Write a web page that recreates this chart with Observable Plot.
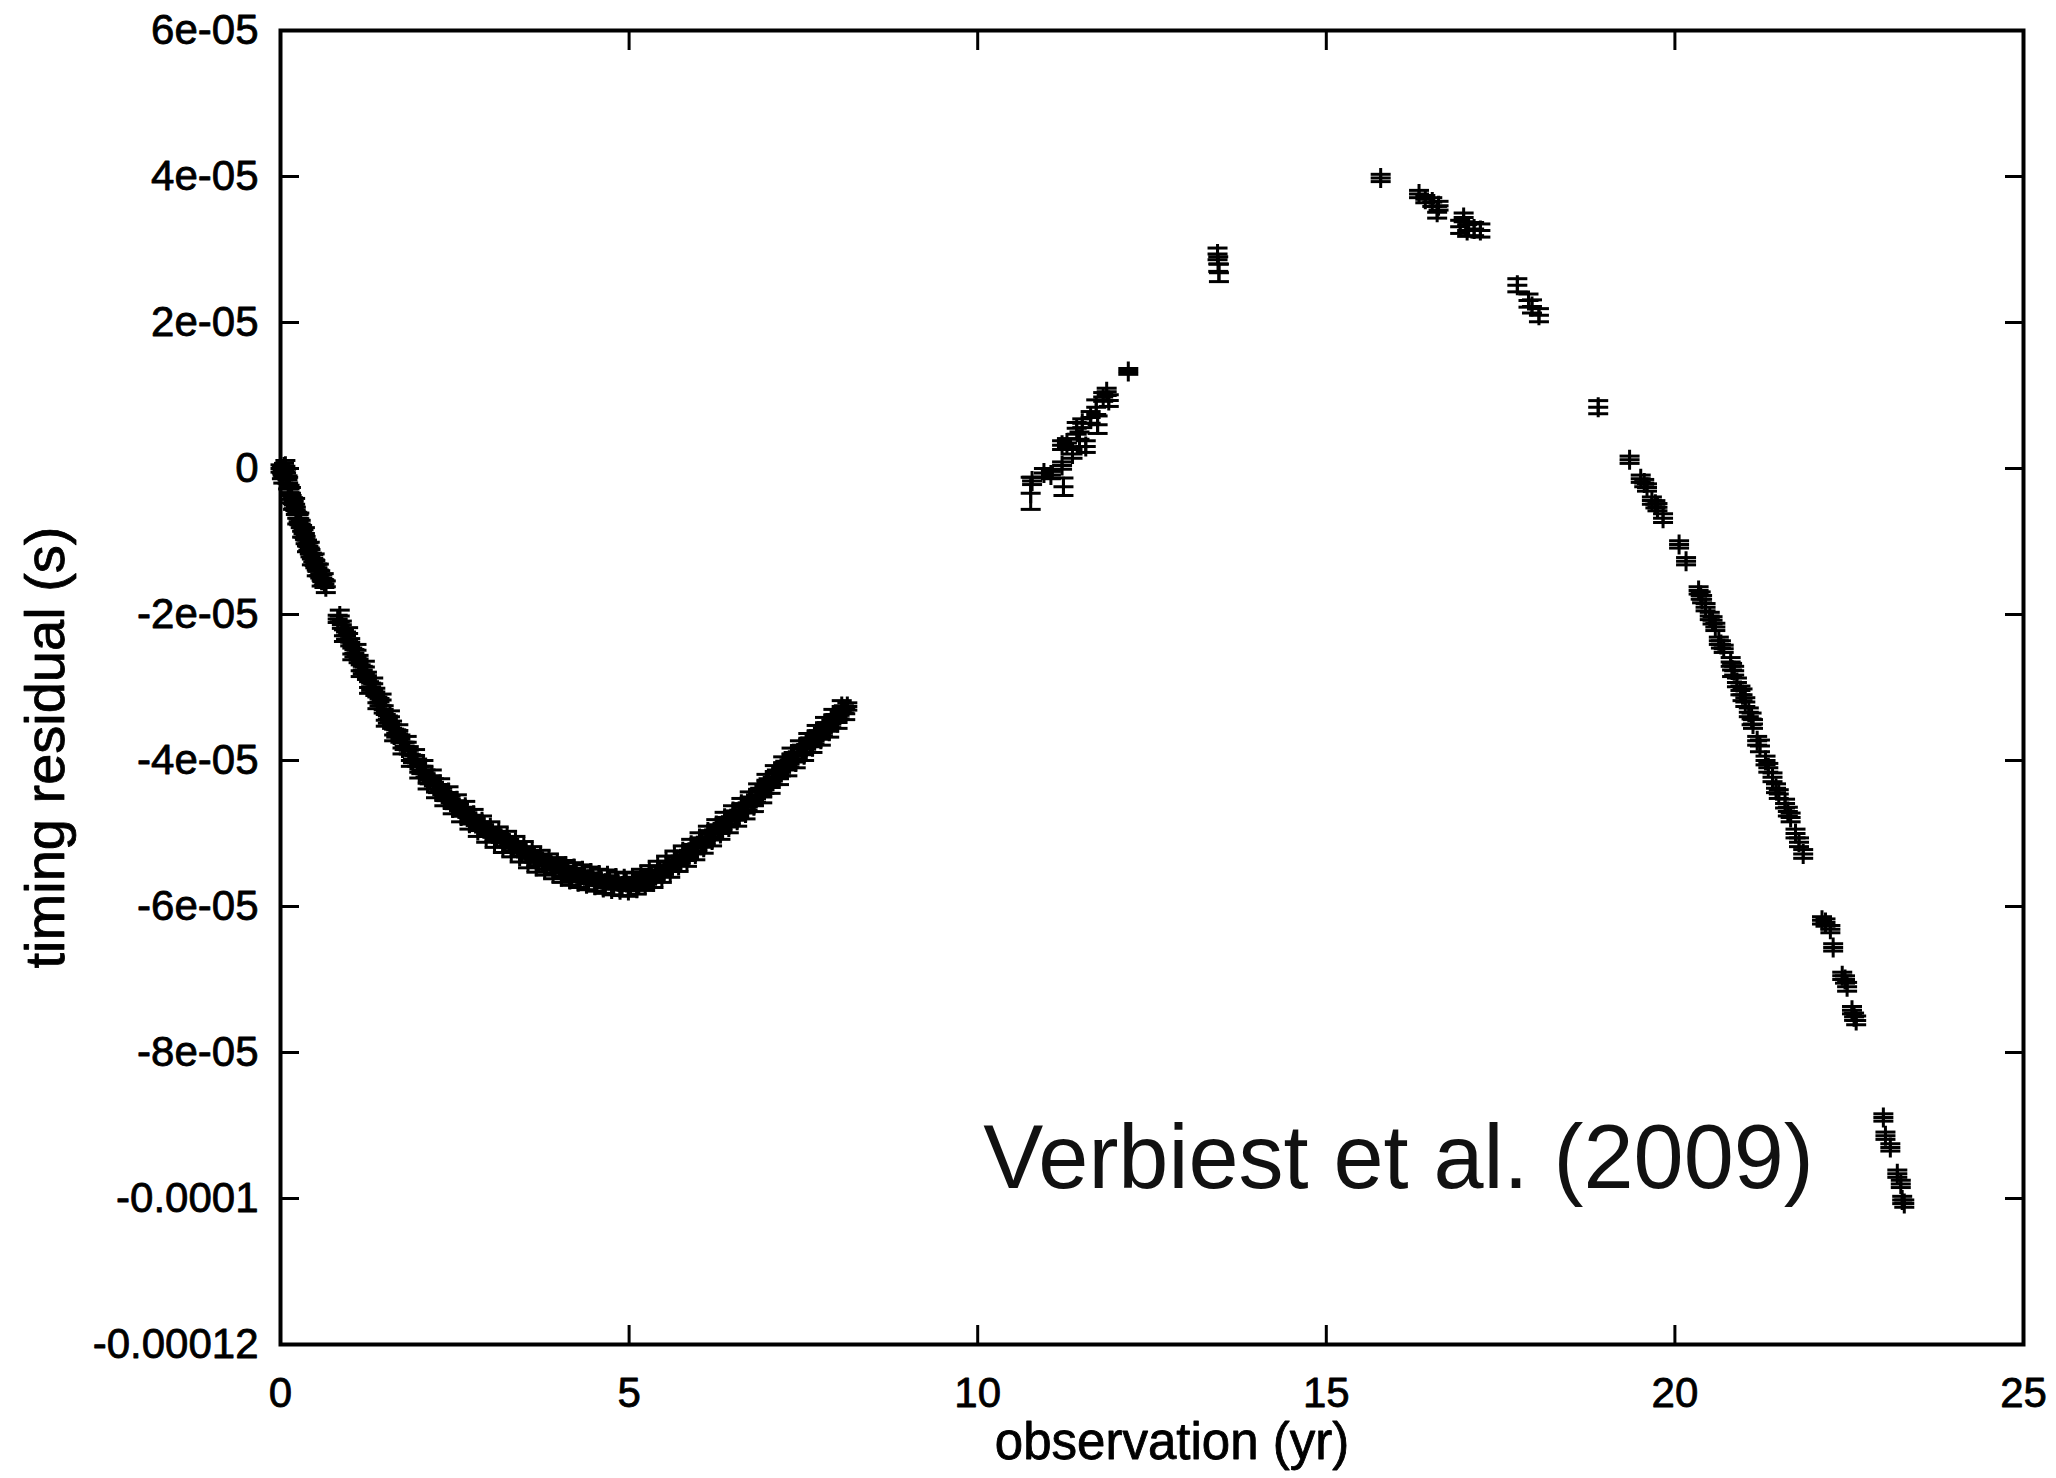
<!DOCTYPE html>
<html><head><meta charset="utf-8">
<script src="https://cdn.jsdelivr.net/npm/d3@7"></script>
<script src="https://cdn.jsdelivr.net/npm/@observablehq/plot@0.6"></script>
<style>html,body{margin:0;padding:0;background:#fff;} #chart svg{display:block}</style>
</head><body><div id="chart"></div>
<script>
// ---- axis ticks & labels ----
const xTicks = [0, 5, 10, 15, 20, 25];
const xTickLabels = ["0", "5", "10", "15", "20", "25"];
const yTicks = [60, 40, 20, 0, -20, -40, -60, -80, -100, -120]; // microseconds
const yTickLabels = ["6e-05", "4e-05", "2e-05", "0", "-2e-05", "-4e-05", "-6e-05", "-8e-05", "-0.0001", "-0.00012"];
const xLabel = "observation (yr)";
const yLabel = "timing residual (s)";
const annotation = [{yr: 10.08, res: -98.5, text: "Verbiest et al. (2009)"}];

// ---- dense early segment (yr, residual in microseconds) ----
const seg1Yr = [0.00,0.03,0.05,0.08,0.10,0.13,0.16,0.19,0.22,0.26,0.29,0.33,0.36,0.40,0.43,0.47,0.50,0.53,0.57,0.60,0.63,
  0.82,0.88,0.94,1.00,1.06,1.12,1.18,1.24,1.30,1.36,1.42,1.48,1.54,1.60,1.66,1.72,1.78,1.84,1.90,1.96,
  2.02,2.08,2.14,2.20,2.26,2.32,2.38,2.44,2.50,2.56,2.62,2.68,2.74,2.80,2.86,2.92,2.98,
  3.04,3.10,3.16,3.22,3.28,3.34,3.40,3.46,3.52,3.58,3.64,3.70,3.76,3.82,3.88,3.94,
  4.00,4.06,4.12,4.18,4.24,4.30,4.36,4.42,4.48,4.54,4.60,4.66,4.72,4.78,4.84,4.90,4.96,
  5.02,5.08,5.14,5.20,5.26,5.32,5.38,5.44,5.50,5.56,5.62,5.68,5.74,5.80,5.86,5.92,5.98,
  6.04,6.10,6.16,6.22,6.28,6.34,6.40,6.46,6.52,6.58,6.64,6.70,6.76,6.82,6.88,6.94,
  7.00,7.06,7.12,7.18,7.24,7.30,7.36,7.42,7.48,7.54,7.60,7.66,7.72,7.78,7.84,7.90,7.96,
  8.02,8.08,8.13];
const seg1Res = [0.0,-0.4,0.2,-0.6,-1.5,-2.8,-4.2,-5.0,-5.8,-6.8,-7.6,-8.9,-9.8,-10.7,-11.6,-12.3,-13.1,-13.6,-14.5,-15.0,-15.8,
  -20.6,-21.4,-22.9,-23.8,-25.3,-26.1,-27.6,-28.4,-29.9,-30.6,-32.0,-33.0,-34.4,-35.1,-36.3,-37.0,-38.0,-38.6,-39.8,-40.3,
  -41.3,-41.8,-42.7,-43.0,-43.9,-44.2,-45.0,-45.3,-46.1,-46.4,-47.1,-47.3,-48.2,-48.4,-49.1,-49.3,-49.9,
  -50.0,-50.6,-50.7,-51.3,-51.3,-51.9,-52.0,-52.6,-52.7,-53.4,-53.4,-53.9,-53.8,-54.4,-54.3,-54.9,
  -54.8,-55.4,-55.2,-55.7,-55.5,-56.0,-55.8,-56.3,-56.0,-56.6,-56.3,-56.8,-56.4,-57.1,-56.6,-57.2,-56.7,
  -57.2,-56.5,-56.8,-56.1,-56.3,-55.7,-55.8,-55.0,-55.1,-54.3,-54.4,-53.6,-53.6,-52.9,-52.8,-52.0,-51.9,
  -51.1,-51.0,-50.1,-50.0,-49.3,-49.1,-48.3,-48.2,-47.4,-47.3,-46.4,-46.3,-45.5,-45.2,-44.3,-44.0,
  -43.0,-42.8,-41.8,-41.6,-40.6,-40.4,-39.4,-39.3,-38.4,-38.3,-37.4,-37.2,-36.4,-36.1,-35.3,-35.0,-34.2,
  -33.8,-33.0,-32.6];
const seg1Err = 0.5;

// second interleaved set of the dense early observations (yr, μs)
const seg1bYr = [0.02,0.04,0.07,0.11,0.15,0.18,0.21,0.24,0.27,0.31,0.35,0.38,0.42,0.45,0.49,0.52,0.55,0.59,0.62,0.65,
  0.85,0.91,0.97,1.03,1.09,1.15,1.21,1.27,1.33,1.39,1.45,1.51,1.57,1.63,1.69,1.75,1.81,1.87,1.93,1.99,
  2.05,2.11,2.17,2.23,2.29,2.35,2.41,2.47,2.53,2.59,2.65,2.71,2.77,2.83,2.89,2.95,
  3.01,3.07,3.13,3.19,3.25,3.31,3.37,3.43,3.49,3.55,3.61,3.67,3.73,3.79,3.85,3.91,3.97,
  4.03,4.09,4.15,4.21,4.27,4.33,4.39,4.45,4.51,4.57,4.63,4.69,4.75,4.81,4.87,4.93,4.99,
  5.05,5.11,5.17,5.23,5.29,5.35,5.41,5.47,5.53,5.59,5.65,5.71,5.77,5.83,5.89,5.95,
  6.01,6.07,6.13,6.19,6.25,6.31,6.37,6.43,6.49,6.55,6.61,6.67,6.73,6.79,6.85,6.91,6.97,
  7.03,7.09,7.15,7.21,7.27,7.33,7.39,7.45,7.51,7.57,7.63,7.69,7.75,7.81,7.87,7.93,7.99,
  8.05,8.10];
const seg1bRes = [-0.6,-1.2,0.3,-2.0,-3.4,-4.8,-4.9,-6.8,-6.9,-8.6,-8.9,-10.6,-10.9,-12.4,-12.5,-13.9,-13.9,-15.3,-15.2,-16.2,
  -20.2,-22.9,-22.6,-25.4,-24.9,-27.7,-27.2,-30.0,-29.5,-32.1,-31.7,-34.5,-34.0,-36.5,-35.9,-38.3,-37.5,-40.0,-39.3,-41.6,
  -40.8,-43.1,-42.1,-44.3,-43.3,-45.4,-44.4,-46.5,-45.5,-47.6,-46.4,-48.6,-47.5,-49.6,-48.4,-50.4,
  -49.2,-51.1,-49.9,-51.8,-50.5,-52.4,-51.2,-53.1,-51.9,-53.9,-52.6,-54.5,-53.1,-54.9,-53.6,-55.4,-54.1,
  -55.9,-54.5,-56.3,-54.8,-56.6,-55.1,-56.9,-55.4,-57.1,-55.7,-57.4,-55.8,-57.6,-56.1,-57.7,-56.2,-57.8,
  -56.1,-57.5,-55.7,-57.0,-55.2,-56.6,-54.6,-55.9,-53.9,-55.2,-53.2,-54.4,-52.5,-53.7,-51.6,-52.8,
  -50.7,-51.9,-49.8,-50.9,-48.9,-50.0,-47.9,-49.1,-47.0,-48.2,-46.0,-47.2,-45.1,-46.2,-44.0,-45.0,-42.7,
  -43.7,-41.5,-42.5,-40.3,-41.3,-39.1,-40.2,-38.1,-39.2,-37.1,-38.1,-36.0,-37.1,-34.9,-36.0,-33.8,-34.8,
  -32.6,-33.6];
const seg1bErr = 0.8;

// ---- later sparse observations (yr, residual μs, error μs) ----
const laterYr = [10.76,10.78,10.95,11.05,11.21,11.21,11.23,11.28,11.36,11.42,11.46,11.50,11.55,11.62,11.70,11.72,11.80,11.85,11.88,12.16,
  13.44,13.45,13.46,
  15.78,16.33,16.42,16.52,16.61,16.59,16.97,16.92,17.02,17.12,17.21,17.74,17.90,17.95,18.05,18.90,
  19.35,19.51,19.56,19.60,19.67,19.72,19.75,19.83,20.06,20.16,20.34,20.37,20.39,20.44,20.50,20.54,20.58,20.63,20.66,20.70,
  20.80,20.82,20.85,20.89,20.94,20.97,21.01,21.06,21.10,21.12,21.18,21.22,21.30,21.34,21.40,21.45,21.49,21.58,21.62,21.66,21.73,21.78,21.84,
  22.11,22.16,22.23,22.27,22.40,22.44,22.47,22.54,22.57,22.60,
  22.99,23.02,23.09,23.19,23.24,23.26,23.29];
const laterRes = [-3.4,-1.7,-0.6,-0.9,3.2,0.4,-2.5,3.5,2.0,5.5,4.0,6.2,3.0,7.0,8.4,6.0,9.8,10.5,9.3,13.3,
  29.4,28.0,26.8,
  39.8,37.6,36.9,36.5,36.0,35.1,34.4,33.1,32.6,32.8,32.6,25.1,23.0,22.2,21.0,8.4,
  1.2,-1.4,-2.0,-2.6,-4.4,-4.9,-5.3,-6.8,-10.4,-12.7,-16.7,-17.4,-17.9,-19.0,-20.2,-20.8,-21.7,-23.6,-24.1,-24.7,
  -26.5,-27.6,-27.7,-29.3,-30.4,-31.0,-32.0,-33.4,-34.3,-35.0,-37.3,-38.0,-40.0,-41.0,-42.3,-43.8,-44.6,-45.9,-47.0,-47.8,-50.0,-51.2,-52.8,
  -61.9,-62.2,-63.1,-65.6,-69.5,-70.0,-71.0,-74.2,-75.1,-75.6,
  -88.9,-91.4,-93.0,-96.6,-98.0,-100.2,-100.7];
const laterErr = [2.2,0.5,0.6,0.5,0.6,0.5,1.2,0.6,0.6,0.8,1.0,0.6,0.8,0.8,1.0,1.2,0.6,0.5,0.8,0.4,
  0.8,1.0,1.2,
  0.5,0.5,0.5,0.6,0.6,0.8,0.6,0.9,0.8,0.9,0.9,0.9,0.9,0.9,0.9,0.9,
  0.5,0.5,0.5,0.5,0.5,0.5,0.5,0.6,0.5,0.5,0.5,0.5,0.5,0.5,0.5,0.5,0.5,0.5,0.5,0.5,
  0.6,0.9,0.6,0.6,0.6,0.8,0.6,0.6,0.8,0.6,0.6,0.8,0.6,0.6,0.6,0.6,0.6,0.6,0.6,0.6,0.6,0.6,0.6,
  0.5,0.5,0.5,0.5,0.5,0.5,0.6,0.5,0.5,0.6,
  0.5,0.5,0.5,0.5,0.5,0.5,0.5];

const points = seg1Yr.map((yr, i) => ({yr, res: seg1Res[i], err: seg1Err}))
  .concat(seg1bYr.map((yr, i) => ({yr, res: seg1bRes[i], err: seg1bErr})))
  .concat(laterYr.map((yr, i) => ({yr, res: laterRes[i], err: laterErr[i]})));

// gnuplot-like symbols
const plusSym = {draw(ctx, size) { const r = Math.sqrt(size / Math.PI);
  ctx.moveTo(-r, 0); ctx.lineTo(r, 0); ctx.moveTo(0, -r); ctx.lineTo(0, r); }};
const capSym = {draw(ctx, size) { const r = Math.sqrt(size / Math.PI);
  ctx.moveTo(-r, 0); ctx.lineTo(r, 0); }};

const chart = Plot.plot({
  width: 2056,
  height: 1478,
  marginLeft: 280,
  marginRight: 33,
  marginTop: 30,
  marginBottom: 134,
  style: {fontFamily: "'Liberation Sans', Arial, Helvetica, sans-serif", background: "white", color: "black"},
  x: {domain: [0, 25]},
  y: {domain: [-120, 60]},
  marks: [
    Plot.ruleX(points, {x: "yr", y1: d => d.res - d.err, y2: d => d.res + d.err, stroke: "black", strokeWidth: 3}),
    Plot.dot(points, {x: "yr", y: d => d.res - d.err, symbol: capSym, r: 10, fill: "none", stroke: "black", strokeWidth: 3}),
    Plot.dot(points, {x: "yr", y: d => d.res + d.err, symbol: capSym, r: 10, fill: "none", stroke: "black", strokeWidth: 3}),
    Plot.dot(points, {x: "yr", y: "res", symbol: plusSym, r: 10, fill: "none", stroke: "black", strokeWidth: 3}),
    Plot.axisX(xTicks, {anchor: "bottom", tickSize: -19, tickPadding: 52, strokeWidth: 3,
      tickFormat: d => xTickLabels[xTicks.indexOf(d)], fontSize: 42, label: null,
      textStroke: "black", textStrokeWidth: 0.8}),
    Plot.axisX(xTicks, {anchor: "top", tickSize: -19, strokeWidth: 3, fill: "none", label: null}),
    Plot.axisY(yTicks, {anchor: "left", tickSize: -19, tickPadding: 41, strokeWidth: 3,
      tickFormat: d => yTickLabels[yTicks.indexOf(d)], fontSize: 42, label: null,
      textStroke: "black", textStrokeWidth: 0.8}),
    Plot.axisY(yTicks, {anchor: "right", tickSize: -19, strokeWidth: 3, fill: "none", label: null}),
    Plot.frame({stroke: "black", strokeWidth: 4}),
    Plot.text([xLabel], {text: d => d, frameAnchor: "bottom", dy: 98, dx: 20, fontSize: 51, textAnchor: "middle", lineAnchor: "middle",
      fill: "black", stroke: "black", strokeWidth: 0.8}),
    Plot.text([yLabel], {text: d => d, frameAnchor: "left", rotate: -90, dx: -234, dy: 60, fontSize: 56, textAnchor: "middle", lineAnchor: "middle",
      fill: "black", stroke: "black", strokeWidth: 0.8}),
    Plot.text(annotation, {x: "yr", y: "res", text: "text", textAnchor: "start", lineAnchor: "bottom", fontSize: 90, fill: "#111"})
  ]
});
document.getElementById("chart").appendChild(chart);
</script>
</body></html>
